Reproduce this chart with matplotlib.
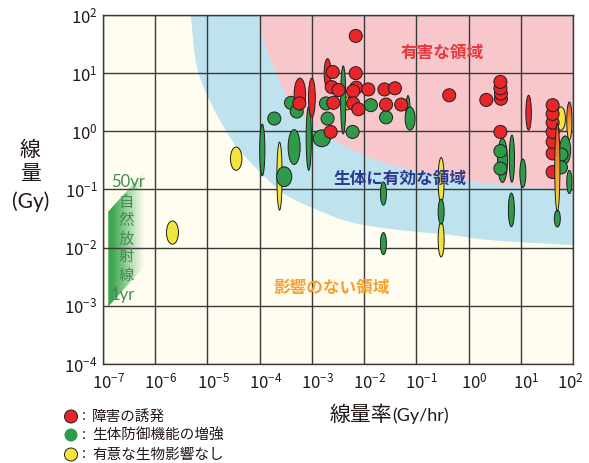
import numpy as np
import matplotlib
matplotlib.use("Agg")
import matplotlib.pyplot as plt
import matplotlib.colors as mcolors
import matplotlib.transforms as mtransforms
from matplotlib.patches import Ellipse, Polygon, Circle

plt.rcParams["font.family"] = ["Noto Sans CJK JP", "DejaVu Sans"]
plt.rcParams["mathtext.fontset"] = "custom"
plt.rcParams["mathtext.rm"] = "Lato"

# ---------------------------------------------------------------------------
# Data (log10 of dose rate in Gy/hr, log10 of dose in Gy).
# rate_span / dose_span: extent of the reported range in decades (0 = single value)
# ---------------------------------------------------------------------------
rate_decades = list(range(-7, 3))
dose_decades = list(range(-4, 3))

# effects observed (harm)
red_log_rate = [-2.16, -2.70, -2.60, -2.62, -2.49, -2.59, -2.64, -3.23, -3.24, -3.00,
                -2.16, -2.15, -2.21, -2.21, -2.11, -1.92, -1.61, -1.41, -1.58, -1.29,
                -0.37, 0.34, 0.62, 0.62, 0.61, 0.61, 1.15, 0.61,
                1.61, 1.61, 1.61, 1.61, 1.61, 1.61, 1.61]
red_log_dose = [1.64, 1.00, 1.02, 0.76, 0.71, 0.49, -0.01, 0.64, 0.48, 0.58,
                1.00, 0.75, 0.69, 0.48, 0.38, 0.72, 0.72, 0.74, 0.46, 0.46,
                0.62, 0.54, 0.56, 0.65, 0.74, 0.85, 0.32, -0.01,
                -0.70, -0.38, -0.18, -0.01, 0.15, 0.30, 0.45]
red_rate_span = [0, 0.13, 0, 0, 0, 0, 0, 0.22, 0, 0.13,
                 0, 0, 0, 0, 0, 0, 0, 0, 0, 0,
                 0, 0, 0, 0, 0, 0, 0.105, 0,
                 0, 0, 0, 0, 0, 0, 0]
red_dose_span = [0, 0.50, 0, 0, 0, 0, 0, 0.55, 0, 0.67,
                 0, 0, 0, 0, 0, 0, 0, 0, 0, 0,
                 0, 0, 0, 0, 0, 0, 0.60, 0,
                 0, 0, 0, 0, 0, 0, 0]

# enhanced defence functions
green_log_rate = [-3.95, -3.72, -3.40, -3.29, -3.34, -3.53, -3.06, -2.81, -2.70, -2.73,
                  -2.40, -2.22, -1.87, -1.58, -1.16, -1.12, -1.63, -1.63, -0.525, 0.65,
                  0.61, 0.61, 0.83, 1.04, 0.82, 1.85, 1.78, 1.77, 1.93, 1.70]
green_log_dose = [-0.32, 0.22, 0.49, 0.34, -0.27, -0.78, -0.12, -0.12, 0.22, 0.48,
                  0.54, -0.01, 0.45, 0.24, 0.35, 0.22, -1.07, -1.93, -1.38, -0.50,
                  -0.34, -0.64, -0.47, -0.72, -1.35, -0.32, -0.40, -0.62, -0.87, -1.50]
green_rate_span = [0.10, 0, 0, 0, 0.23, 0.29, 0.10, 0.33, 0, 0,
                   0.10, 0, 0, 0, 0.08, 0.19, 0.115, 0.115, 0.115, 0.19,
                   0, 0, 0.10, 0.115, 0.115, 0.21, 0, 0, 0.10, 0.115]
green_dose_span = [0.89, 0, 0, 0, 0.60, 0.34, 1.10, 0.29, 0, 0,
                   1.17, 0, 0, 0, 0.53, 0.40, 0.40, 0.38, 0.43, 0.76,
                   0, 0, 0.81, 0.49, 0.58, 0.48, 0, 0, 0.40, 0.29]

# no significant biological effect
yellow_log_rate = [-5.67, -4.45, -3.62, -2.32, -0.525, -0.525, 1.77]
yellow_log_dose = [-1.74, -0.47, -0.77, 0.48, -0.84, -1.86, 0.22]
yellow_rate_span = [0.23, 0.22, 0.10, 0.15, 0.115, 0.115, 0.17]
yellow_dose_span = [0.40, 0.40, 1.17, 0.22, 0.78, 0.60, 0.40]

# results spanning harm -> no effect over their dose range
mixed_log_rate = [1.70, 1.93]
mixed_log_dose = [-0.62, 0.18]
mixed_rate_span = [0.10, 0.10]
mixed_dose_span = [1.51, 0.65]

# region boundaries (log10 rate, log10 dose)
harmful_edge = [(-4.03, 2.05), (-3.90, 1.50), (-3.68, 1.00), (-3.40, 0.50), (-2.85, 0.02),
                (-2.20, -0.33), (-1.40, -0.60), (-0.10, -0.84), (1.00, -0.95), (2.05, -1.01)]
effective_edge = [(-5.33, 2.05), (-5.16, 0.97), (-4.62, -0.03), (-4.18, -0.53), (-3.55, -1.06),
                  (-2.90, -1.35), (-2.27, -1.56), (-1.64, -1.66), (-0.98, -1.73), (-0.35, -1.78),
                  (0.41, -1.87), (2.05, -1.96)]

# natural background: dose accumulated over 1 yr and ~50 yr (log10 Gy offset from rate)
natural_rate_range = (-6.90, -6.15)
natural_offset_1yr = 3.885
natural_offset_50yr = 5.52

legend_labels = ["障害の誘発", "生体防御機能の増強", "有意な生物影響なし"]

# ---------------------------------------------------------------------------
CREAM = "#FFFDF0"
BLUE = "#BEE3EF"
PINK = "#F7C7CB"
RED = "#E8262A"
GREEN = "#2F9A4A"
YELLOW = "#F1E43A"
EDGE = "#1E1E1E"
GRID = "#3A3A3A"
TEXT = "#231815"

W, H = 589, 463
fig = plt.figure(figsize=(W / 100, H / 100), dpi=100)
fig.patch.set_facecolor("white")
ax = fig.add_axes([103 / W, 1 - 364 / H, 470 / W, 349 / H])
ax.set_facecolor(CREAM)
XLIM, YLIM = (-7, 2), (-4, 2)


def catmull_rom(points, n=30):
    p = np.asarray(points, float)
    P = np.vstack([2 * p[0] - p[1], p, 2 * p[-1] - p[-2]])
    out = []
    t = np.linspace(0, 1, n, endpoint=False)[:, None]
    for i in range(1, len(P) - 2):
        p0, p1, p2, p3 = P[i - 1], P[i], P[i + 1], P[i + 2]
        out.append(0.5 * (2 * p1 + (-p0 + p2) * t + (2 * p0 - 5 * p1 + 4 * p2 - p3) * t ** 2
                          + (-p0 + 3 * p1 - 3 * p2 + p3) * t ** 3))
    out.append(p[-1:])
    return np.vstack(out)


# shaded regions
for edge, color, z in [(effective_edge, BLUE, 0.5), (harmful_edge, PINK, 0.6)]:
    curve = catmull_rom(edge)
    poly = np.vstack([curve, [[2.05, 2.05]]])
    ax.add_patch(Polygon(poly, closed=True, fc=color, ec="none", zorder=z))

# natural-radiation band, fading to the right
r0, r1 = natural_rate_range
band = Polygon([(r0, r0 + natural_offset_1yr), (r0, r0 + natural_offset_50yr),
                (r1, r1 + natural_offset_50yr), (r1, r1 + natural_offset_1yr)],
               closed=True, fc="none", ec="none")
ax.add_patch(band)
tt = np.linspace(0, 1, 128)
rgba = np.zeros((2, 128, 4))
rgba[..., :3] = mcolors.to_rgb("#3FA652")
rgba[..., 3] = np.clip(1.15 - 1.25 * tt, 0, 1) ** 1.1
im = ax.imshow(rgba, extent=(r0, r1, r0 + natural_offset_1yr, r1 + natural_offset_50yr),
               origin="upper", aspect="auto", zorder=0.8, interpolation="bilinear")
im.set_clip_path(band)

# grid
for xv in rate_decades:
    ax.axvline(xv, color=GRID, lw=1.0, zorder=1)
for yv in dose_decades:
    ax.axhline(yv, color=GRID, lw=1.0, zorder=1)

# circle size for single-valued results (decades), round on screen
CIRC_W = 0.25
CIRC_H = CIRC_W * (52.2 / 58.2)


def draw_series(lr, ld, rs, ds, color, z):
    for x, y, w, h in zip(lr, ld, rs, ds):
        if w == 0:
            w, h = CIRC_W, CIRC_H
        ax.add_patch(Ellipse((x, y), w, h, fc=color, ec=EDGE, lw=0.7, zorder=z))


draw_series(yellow_log_rate, yellow_log_dose, yellow_rate_span, yellow_dose_span, YELLOW, 2)
draw_series(green_log_rate, green_log_dose, green_rate_span, green_dose_span, GREEN, 3)
draw_series(red_log_rate, red_log_dose, red_rate_span, red_dose_span, RED, 4)

# gradient marks
c_top = np.array(mcolors.to_rgb("#E9462B"))
c_mid = np.array(mcolors.to_rgb("#F39A2E"))
c_bot = np.array(mcolors.to_rgb("#F3E23C"))
g = np.linspace(0, 1, 96)[:, None]
grad = np.where(g < 0.5, c_top + (c_mid - c_top) * (g / 0.5),
                c_mid + (c_bot - c_mid) * ((g - 0.5) / 0.5))[:, None, :]
for x, y, w, h in zip(mixed_log_rate, mixed_log_dose, mixed_rate_span, mixed_dose_span):
    e = Ellipse((x, y), w, h, fc="none", ec=EDGE, lw=0.7, zorder=5.1)
    ax.add_patch(e)
    gi = ax.imshow(grad, extent=(x - w / 2, x + w / 2, y - h / 2, y + h / 2), origin="upper",
                   aspect="auto", zorder=5, interpolation="bilinear")
    gi.set_clip_path(e)

ax.set_xlim(*XLIM)
ax.set_ylim(*YLIM)
ax.set_aspect("auto")

# region labels
ax.text(-0.51, 1.34, "有害な領域", color="#E8383D", fontsize=12, fontweight="bold",
        ha="center", va="center", zorder=6)
ax.text(-1.31, -0.81, "生体に有効な領域", color="#2B3990", fontsize=12, fontweight="bold",
        ha="center", va="center", zorder=6)
ax.text(-2.62, -2.70, "影響のない領域", color="#F5A02F", fontsize=12, fontweight="bold",
        ha="center", va="center", zorder=6)

# natural radiation labels
NAT = "#3D8E4F"
ax.text(-6.52, -0.87, "50yr", color=NAT, fontsize=12, family=["Lato", "DejaVu Sans"],
        ha="center", va="center", zorder=6)
ax.text(-6.62, -2.81, "1yr", color=NAT, fontsize=12, family=["Lato", "DejaVu Sans"],
        ha="center", va="center", zorder=6)
for i, ch in enumerate("自然放射線"):
    ax.text(-6.55, -1.23 - i * 0.31, ch, color=NAT, fontsize=11, ha="center", va="center",
            zorder=6)

# ticks
ax.set_xticks(rate_decades)
ax.set_yticks(dose_decades)
ax.set_xticklabels([r"$\mathregular{10^{%d}}$" % v for v in rate_decades])
ax.set_yticklabels([r"$\mathregular{10^{%d}}$" % v for v in dose_decades])
ax.tick_params(length=0, labelsize=12, labelcolor=TEXT)
ax.tick_params(axis="x", pad=6)
ax.tick_params(axis="y", pad=4)
xlabels = ax.get_xticklabels()
for i, lab in enumerate(xlabels):
    dx = 4 if i < len(xlabels) - 1 else -2
    lab.set_transform(lab.get_transform()
                      + mtransforms.ScaledTranslation(dx / 72, 0, fig.dpi_scale_trans))
for s in ax.spines.values():
    s.set_color(GRID)
    s.set_linewidth(1.0)
    s.set_zorder(7)

# overlay in pixel coordinates for axis titles and the key
ov = fig.add_axes([0, 0, 1, 1], zorder=10)
ov.set_xlim(0, W)
ov.set_ylim(H, 0)
ov.axis("off")
ov.patch.set_visible(False)

ov.text(30, 150, "線", fontsize=15, color=TEXT, ha="center", va="center")
ov.text(30, 174, "量", fontsize=15, color=TEXT, ha="center", va="center")
ov.text(31, 202, "(Gy)", fontsize=15, color=TEXT, ha="center", va="center",
        family=["Lato", "DejaVu Sans"])
ov.text(392, 421, "線量率", fontsize=15, color=TEXT, ha="right", va="baseline")
ov.text(392, 421, "(Gy/hr)", fontsize=13, color=TEXT, ha="left", va="baseline",
        family=["Lato", "DejaVu Sans"])

for (yy, col, lab) in zip([416.5, 435.0, 454.5], [RED, GREEN, YELLOW], legend_labels):
    ov.add_patch(Circle((71, yy), 6.5, fc=col, ec=EDGE if col != GREEN else "none", lw=0.7))
    ov.text(84, yy, ":", fontsize=10.5, color=TEXT, ha="center", va="center")
    ov.text(92, yy, lab, fontsize=10.5, color=TEXT, ha="left", va="center")

fig.savefig("out.png", dpi=100)
